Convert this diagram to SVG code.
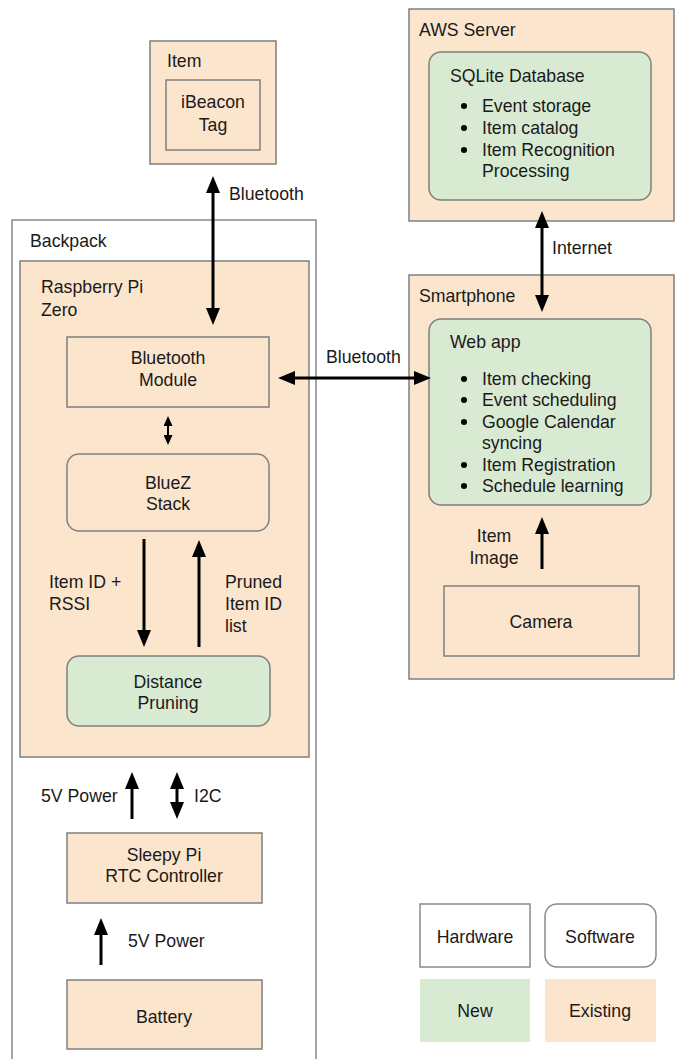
<svg xmlns="http://www.w3.org/2000/svg" width="679" height="1059" viewBox="0 0 679 1059">
<style>
text{font-family:"Liberation Sans",Arial,sans-serif;font-size:17.7px;fill:#1a1a1a}
.c{text-anchor:middle}
.ex{fill:#fce5cd;stroke:#7f7f7f;stroke-width:1.5}
.nw{fill:#d9ead3;stroke:#7f7f7f;stroke-width:1.5}
.wh{fill:#ffffff;stroke:#8a8a8a;stroke-width:1.5}
.ar{stroke:#000;stroke-width:3;fill:none}
.ars{stroke:#000;stroke-width:2;fill:none}
.dot{fill:#000}
</style>
<defs>
<marker id="ah" markerUnits="userSpaceOnUse" markerWidth="17" markerHeight="14" refX="0" refY="7" orient="auto-start-reverse" viewBox="0 0 17 14">
<path d="M0,0 L17,7 L0,14 z" fill="#000"/>
</marker>
<marker id="ahs" markerUnits="userSpaceOnUse" markerWidth="10" markerHeight="9" refX="0" refY="4.5" orient="auto-start-reverse" viewBox="0 0 10 9">
<path d="M0,0 L10,4.5 L0,9 z" fill="#000"/>
</marker>
</defs>

<g id="item">
<rect class="ex" x="150" y="41" width="126" height="123"/>
<text x="167" y="67">Item</text>
</g>
<g id="ibeacon">
<rect class="ex" x="166" y="80" width="94" height="70"/>
<text class="c" x="213" y="108">iBeacon</text>
<text class="c" x="213" y="131">Tag</text>
</g>

<g id="backpack">
<rect class="wh" x="12" y="220" width="304" height="850"/>
<text x="30" y="247">Backpack</text>
</g>
<g id="raspberry-pi">
<rect class="ex" x="20" y="261" width="289" height="496"/>
<text x="41" y="293">Raspberry Pi</text>
<text x="41" y="316">Zero</text>
</g>
<g id="bt-module">
<rect class="ex" x="67" y="337" width="202" height="70"/>
<text class="c" x="168" y="364">Bluetooth</text>
<text class="c" x="168" y="386">Module</text>
</g>
<g id="bluez">
<rect class="ex" x="67" y="454" width="202" height="77" rx="12"/>
<text class="c" x="168" y="489">BlueZ</text>
<text class="c" x="168" y="510">Stack</text>
</g>
<g id="distance-pruning">
<rect class="nw" x="67" y="656" width="203" height="70" rx="12"/>
<text class="c" x="168" y="688">Distance</text>
<text class="c" x="168" y="709">Pruning</text>
</g>
<g id="sleepy-pi">
<rect class="ex" x="67" y="833" width="195" height="70"/>
<text class="c" x="164" y="861">Sleepy Pi</text>
<text class="c" x="164" y="882">RTC Controller</text>
</g>
<g id="battery">
<rect class="ex" x="67" y="980" width="195" height="69"/>
<text class="c" x="164" y="1023">Battery</text>
</g>

<g id="aws">
<rect class="ex" x="409" y="9" width="265" height="212"/>
<text x="419" y="36">AWS Server</text>
</g>
<g id="sqlite">
<rect class="nw" x="429" y="52" width="222" height="148" rx="12"/>
<text x="450" y="82">SQLite Database</text>
<circle class="dot" cx="464" cy="106" r="3"/>
<text x="482" y="112">Event storage</text>
<circle class="dot" cx="464" cy="128" r="3"/>
<text x="482" y="134">Item catalog</text>
<circle class="dot" cx="464" cy="150" r="3"/>
<text x="482" y="156">Item Recognition</text>
<text x="482" y="177">Processing</text>
</g>

<g id="smartphone">
<rect class="ex" x="409" y="275" width="265" height="404"/>
<text x="419" y="302">Smartphone</text>
</g>
<g id="webapp">
<rect class="nw" x="429" y="319" width="222" height="186" rx="12"/>
<text x="450" y="348">Web app</text>
<circle class="dot" cx="464" cy="379" r="3"/>
<text x="482" y="385">Item checking</text>
<circle class="dot" cx="464" cy="400" r="3"/>
<text x="482" y="406">Event scheduling</text>
<circle class="dot" cx="464" cy="422" r="3"/>
<text x="482" y="428">Google Calendar</text>
<text x="482" y="449">syncing</text>
<circle class="dot" cx="464" cy="465" r="3"/>
<text x="482" y="471">Item Registration</text>
<circle class="dot" cx="464" cy="486" r="3"/>
<text x="482" y="492">Schedule learning</text>
</g>
<g id="camera">
<rect class="ex" x="444" y="586" width="195" height="70"/>
<text class="c" x="541" y="628">Camera</text>
</g>

<g id="legend">
<rect class="wh" x="420" y="904" width="110" height="63"/>
<text class="c" x="475" y="943">Hardware</text>
<rect class="wh" x="545" y="904" width="111" height="63" rx="12"/>
<text class="c" x="600" y="943">Software</text>
<rect fill="#d9ead3" x="420" y="979" width="110" height="63"/>
<text class="c" x="475" y="1017">New</text>
<rect fill="#fce5cd" x="545" y="979" width="111" height="63"/>
<text class="c" x="600" y="1017">Existing</text>
</g>

<g id="connectors">
<path class="ar" d="M213,193 L213,308" marker-start="url(#ah)" marker-end="url(#ah)"/>
<text x="229" y="200">Bluetooth</text>
<path class="ar" d="M295,378 L414,378" marker-start="url(#ah)" marker-end="url(#ah)"/>
<text x="326" y="363">Bluetooth</text>
<path class="ar" d="M542,228 L542,295" marker-start="url(#ah)" marker-end="url(#ah)"/>
<text x="552" y="254">Internet</text>
<path class="ars" d="M168,426 L168,435" marker-start="url(#ahs)" marker-end="url(#ahs)"/>
<path class="ar" d="M144,539 L144,630" marker-end="url(#ah)"/>
<text x="49" y="588">Item ID +</text>
<text x="49" y="610">RSSI</text>
<path class="ar" d="M199,647 L199,557" marker-end="url(#ah)"/>
<text x="225" y="588">Pruned</text>
<text x="225" y="610">Item ID</text>
<text x="225" y="632">list</text>
<path class="ar" d="M542,569 L542,534" marker-end="url(#ah)"/>
<text class="c" x="494" y="542">Item</text>
<text class="c" x="494" y="564">Image</text>
<path class="ar" d="M132,819 L132,789" marker-end="url(#ah)"/>
<text x="41" y="802">5V Power</text>
<path class="ar" d="M177,789 L177,802" marker-start="url(#ah)" marker-end="url(#ah)"/>
<text x="194" y="802">I2C</text>
<path class="ar" d="M101,965 L101,935" marker-end="url(#ah)"/>
<text x="128" y="947">5V Power</text>
</g>
</svg>
